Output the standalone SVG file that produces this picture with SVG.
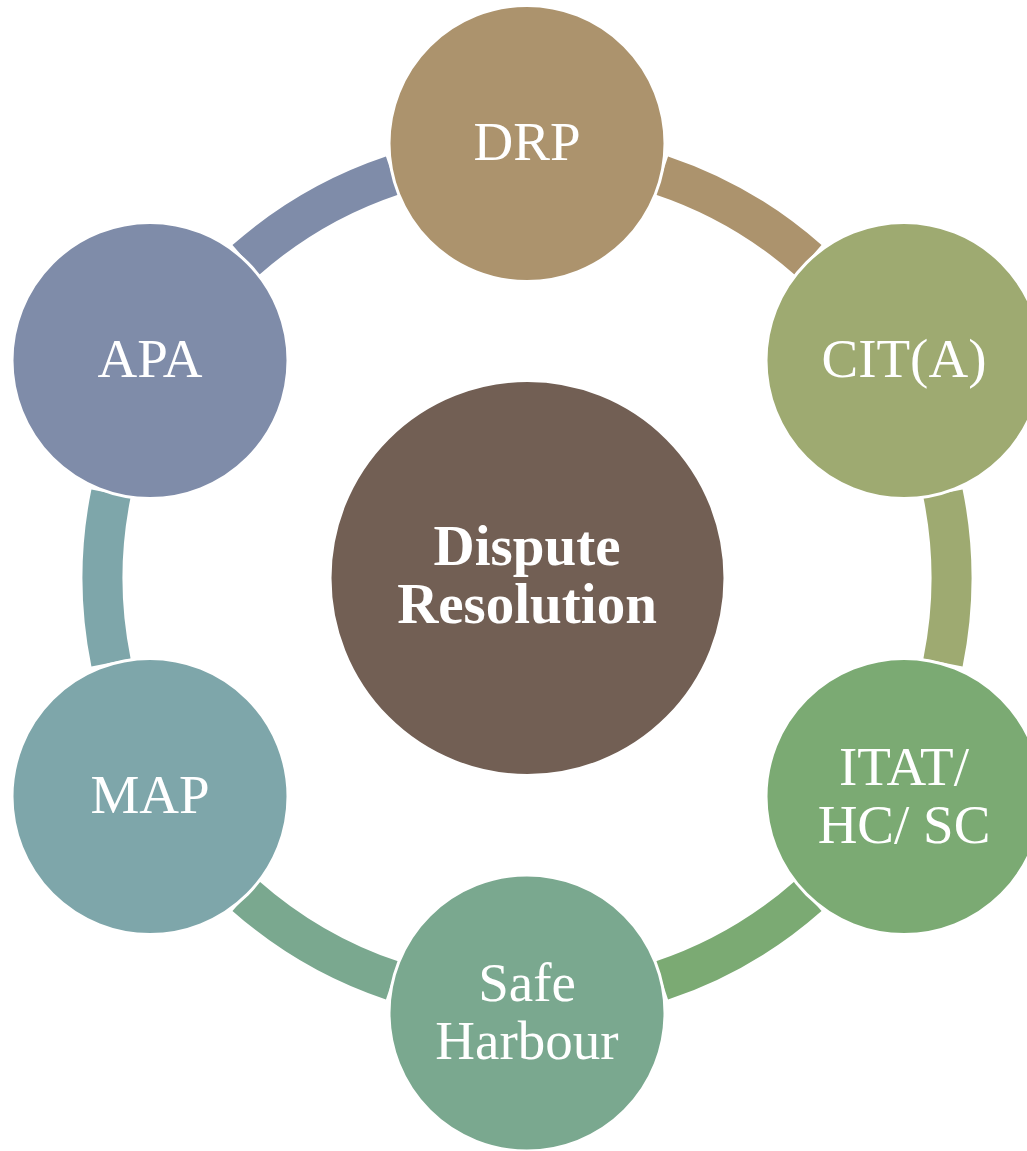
<svg xmlns="http://www.w3.org/2000/svg" xmlns:xlink="http://www.w3.org/1999/xlink" width="1027" height="1151" viewBox="0 0 1027 1151">
<style>
.node{stroke:#ffffff;stroke-width:3}
.lbl{font-family:"Liberation Serif","Times New Roman",serif;font-size:55px;fill:#ffffff;text-anchor:middle}
.ctr{font-family:"Liberation Serif","Times New Roman",serif;font-size:57px;font-weight:bold;fill:#ffffff;text-anchor:middle}
</style>
<defs>
<path id="arc" d="M 668.04 156.47 A 444.5 444.5 0 0 1 821.53 245.09 L 795.03 275.05 A 404.5 404.5 0 0 0 655.35 194.40 Z"/>
</defs>
<rect width="1027" height="1151" fill="#ffffff"/>
<g id="connectors">
<use xlink:href="#arc" href="#arc" fill="#AC936D"/>
<use xlink:href="#arc" href="#arc" fill="#9EAA71" transform="rotate(60 527 578)"/>
<use xlink:href="#arc" href="#arc" fill="#7BAA73" transform="rotate(120 527 578)"/>
<use xlink:href="#arc" href="#arc" fill="#7AA88F" transform="rotate(180 527 578)"/>
<use xlink:href="#arc" href="#arc" fill="#7EA6AA" transform="rotate(240 527 578)"/>
<use xlink:href="#arc" href="#arc" fill="#7F8CA9" transform="rotate(300 527 578)"/>
</g>
<g id="center">
<circle cx="527.5" cy="578" r="197.5" fill="#725F54" class="node"/>
<text class="ctr" x="527" y="565">Dispute</text>
<text class="ctr" x="527" y="623">Resolution</text>
</g>
<g id="drp">
<circle cx="527" cy="143.5" r="138" fill="#AC936D" class="node"/>
<text class="lbl" x="527" y="160">DRP</text>
</g>
<g id="cita">
<circle cx="904" cy="360.5" r="138" fill="#9EAA71" class="node"/>
<text class="lbl" x="904" y="377">CIT(A)</text>
</g>
<g id="itat">
<circle cx="904" cy="796.5" r="138" fill="#7BAA73" class="node"/>
<text class="lbl" x="904" y="785">ITAT/</text>
<text class="lbl" x="904" y="843">HC/ SC</text>
</g>
<g id="safe">
<circle cx="527" cy="1013" r="138" fill="#7AA88F" class="node"/>
<text class="lbl" x="527" y="1001">Safe</text>
<text class="lbl" x="527" y="1059">Harbour</text>
</g>
<g id="map">
<circle cx="150" cy="796.5" r="138" fill="#7EA6AA" class="node"/>
<text class="lbl" x="150" y="813">MAP</text>
</g>
<g id="apa">
<circle cx="150" cy="360.5" r="138" fill="#7F8CA9" class="node"/>
<text class="lbl" x="150" y="377">APA</text>
</g>
</svg>
